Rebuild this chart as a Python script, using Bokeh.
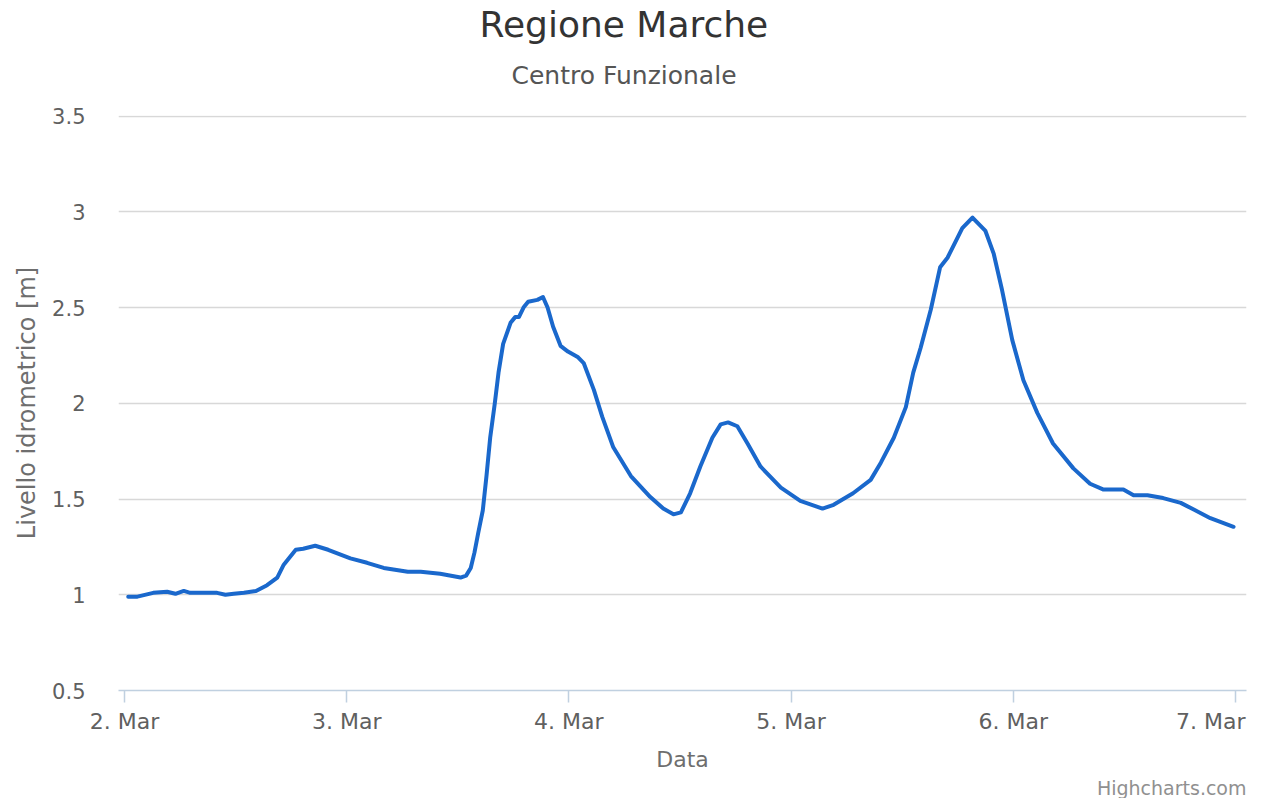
import pandas as pd
from bokeh.plotting import figure
from bokeh.models import Range1d, FixedTicker, NumeralTickFormatter, Title, ColumnDataSource
from bokeh.embed import file_html
from bokeh.resources import INLINE

# ---- data ----
start_day = "2015-03-02 00:00"
hours = [0.4, 1.4, 3.1, 4.6, 5.5, 6.4, 7.1, 10.0, 10.9, 11.8, 12.9, 14.2, 15.4, 16.5, 17.2,
         18.5, 19.3, 20.6, 22.0, 24.4, 26.2, 28.0, 30.6, 32.0, 34.1, 36.3, 36.9, 37.4, 37.8,
         38.2, 38.7, 39.1, 39.5, 40.0, 40.4, 40.9, 41.7, 42.2, 42.6, 43.1, 43.6, 44.6, 45.2,
         45.7, 46.3, 47.1, 47.9, 49.0, 49.6, 50.7, 51.6, 52.8, 54.7, 56.8, 58.2, 59.3, 60.1,
         61.1, 62.2, 63.5, 64.4, 65.2, 66.2, 67.3, 68.7, 70.9, 73.0, 75.4, 76.6, 78.7, 80.6,
         81.7, 83.1, 84.4, 85.2, 86.0, 87.1, 88.1, 88.9, 90.5, 91.6, 93.0, 93.9, 94.8, 95.9,
         97.1, 98.6, 100.3, 102.5, 104.3, 105.7, 107.9, 109.0, 110.5, 112.2, 114.1, 115.5,
         117.3, 119.8]
levels = [0.99, 0.99, 1.01, 1.016, 1.005, 1.02, 1.01, 1.01, 1.0, 1.005, 1.01, 1.02, 1.05,
          1.09, 1.157, 1.235, 1.24, 1.256, 1.235, 1.19, 1.167, 1.14, 1.12, 1.12, 1.11, 1.09,
          1.10, 1.14, 1.22, 1.32, 1.44, 1.62, 1.82, 2.0, 2.16, 2.31, 2.42, 2.45, 2.45, 2.5,
          2.53, 2.54, 2.555, 2.5, 2.40, 2.30, 2.27, 2.24, 2.21, 2.07, 1.93, 1.77, 1.62, 1.51,
          1.45, 1.42, 1.43, 1.53, 1.67, 1.82, 1.89, 1.90, 1.88, 1.79, 1.67, 1.56, 1.49, 1.45,
          1.47, 1.53, 1.60, 1.69, 1.82, 1.98, 2.16, 2.29, 2.49, 2.71, 2.76, 2.915, 2.97, 2.90,
          2.78, 2.59, 2.33, 2.12, 1.95, 1.79, 1.66, 1.58, 1.55, 1.55, 1.52, 1.52, 1.505, 1.48,
          1.445, 1.40, 1.355]
tick_days = ["2015-03-02", "2015-03-03", "2015-03-04", "2015-03-05", "2015-03-06", "2015-03-07"]
tick_labels = ["2. Mar", "3. Mar", "4. Mar", "5. Mar", "6. Mar", "7. Mar"]
y_ticks = [0.5, 1.0, 1.5, 2.0, 2.5, 3.0, 3.5]

title_text = "Regione Marche"
subtitle_text = "Centro Funzionale"
x_title = "Data"
y_title = "Livello idrometrico [m]"
credit_text = "Highcharts.com"

# ---- build ----
FONT = "DejaVu Sans"
t0 = pd.Timestamp(start_day)
times = t0 + pd.to_timedelta(hours, unit="h")
src = ColumnDataSource(dict(t=times, v=levels))

x_start = t0 - pd.Timedelta(hours=0.65)
x_end = pd.Timestamp(tick_days[-1]) + pd.Timedelta(hours=1.2)

p = figure(width=1266, height=798, x_axis_type="datetime",
           output_backend="svg", toolbar_location=None,
           x_range=Range1d(x_start, x_end), y_range=Range1d(0.5, 3.503),
           min_border_left=118, min_border_right=20,
           min_border_top=115, min_border_bottom=108)
p.title.text = ""
p.title.visible = False
p.outline_line_color = None
p.background_fill_color = "white"
p.border_fill_color = "white"

p.line("t", "v", source=src, line_color="#1a68cc", line_width=4,
       line_join="round", line_cap="round")

# x axis (last label kept inside the chart, as in the reference)
tick_ms = [pd.Timestamp(d).value // 10**6 for d in tick_days]
overrides = {}
for i, (ms, lab) in enumerate(zip(tick_ms, tick_labels)):
    overrides[ms] = lab + "\u00a0" * 3 if i == len(tick_ms) - 1 else lab
xa = p.xaxis[0]
xa.ticker = FixedTicker(ticks=tick_ms)
xa.major_label_overrides = overrides
xa.axis_line_color = "#c0d0e0"
xa.axis_line_width = 1.5
xa.major_tick_line_color = "#c0d0e0"
xa.major_tick_line_width = 1.5
xa.major_tick_out = 12
xa.major_tick_in = 0
xa.minor_tick_line_color = None
xa.major_label_standoff = 6
xa.major_label_text_font = FONT
xa.major_label_text_font_size = "22px"
xa.major_label_text_color = "#606060"
xa.axis_label = x_title
xa.axis_label_text_font = FONT
xa.axis_label_text_font_size = "22px"
xa.axis_label_text_font_style = "normal"
xa.axis_label_text_color = "#6e6e6e"
xa.axis_label_standoff = 10

# y axis
ya = p.yaxis[0]
ya.ticker = FixedTicker(ticks=y_ticks)
ya.formatter = NumeralTickFormatter(format="0.[0]")
ya.axis_line_color = None
ya.major_tick_line_color = None
ya.minor_tick_line_color = None
ya.major_tick_out = 0
ya.major_tick_in = 0
ya.major_label_standoff = 33
ya.major_label_text_font = FONT
ya.major_label_text_font_size = "21px"
ya.major_label_text_color = "#606060"
ya.axis_label = y_title
ya.axis_label_text_font = FONT
ya.axis_label_text_font_size = "24px"
ya.axis_label_text_font_style = "normal"
ya.axis_label_text_color = "#6e6e6e"
ya.axis_label_standoff = 8

p.xgrid.visible = False
p.ygrid.ticker = FixedTicker(ticks=y_ticks)
p.ygrid.grid_line_color = "#d8d8d8"
p.ygrid.grid_line_width = 1.5

# titles
sub = Title(text=subtitle_text, align="left", offset=393, text_font=FONT,
            text_font_size="25px", text_font_style="normal", text_color="#555555",
            standoff=51)
p.add_layout(sub, "above")
main = Title(text=title_text, align="left", offset=361, text_font=FONT,
             text_font_size="36px", text_font_style="normal", text_color="#333333",
             standoff=-23)
p.add_layout(main, "above")

credit = Title(text=credit_text, align="right", offset=0, text_font=FONT,
               text_font_size="19px", text_font_style="normal", text_color="#909090",
               standoff=0)
p.add_layout(credit, "below")

open("out.html", "w").write(file_html(p, INLINE))
